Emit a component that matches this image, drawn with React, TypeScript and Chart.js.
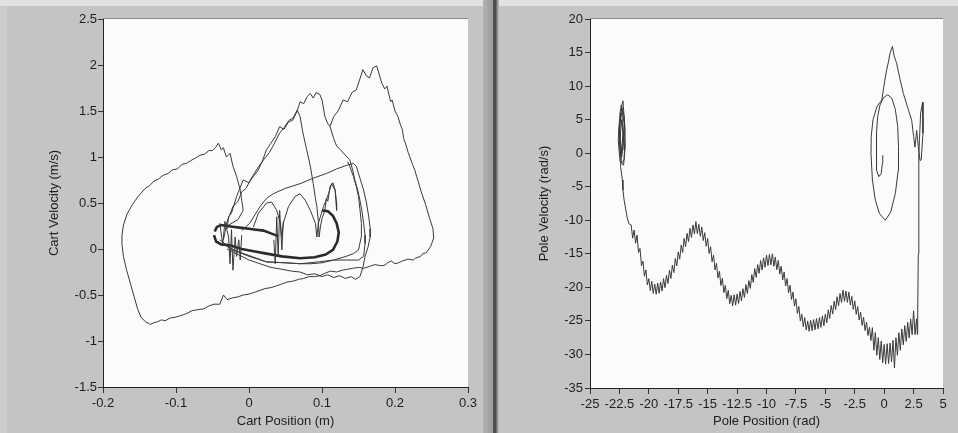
import { useEffect, useRef } from "react";
import { Chart, registerables } from "chart.js";

Chart.register(...registerables);

type P = [number, number];

// ---------- tick labels ----------
const cartXTicks = [-0.2, -0.1, 0, 0.1, 0.2, 0.3];
const cartYTicks = [-1.5, -1, -0.5, 0, 0.5, 1, 1.5, 2, 2.5];
const poleXTicks = [-25, -22.5, -20, -17.5, -15, -12.5, -10, -7.5, -5, -2.5, 0, 2.5, 5];
const poleYTicks = [-35, -30, -25, -20, -15, -10, -5, 0, 5, 10, 15, 20];

// ---------- cart phase trajectory pieces (x m, v m/s) ----------
const cartOuterLoop: P[] = [
  [0.111, 1.33], [0.116, 1.44], [0.122, 1.5], [0.129, 1.62], [0.135, 1.6], [0.141, 1.7], [0.147, 1.73],
  [0.152, 1.85], [0.156, 1.95], [0.161, 1.88], [0.165, 1.86], [0.17, 1.97], [0.175, 1.99], [0.179, 1.88],
  [0.182, 1.8], [0.186, 1.74], [0.189, 1.77], [0.194, 1.6], [0.196, 1.62], [0.2, 1.5], [0.204, 1.44],
  [0.207, 1.36], [0.21, 1.3], [0.212, 1.2], [0.215, 1.13], [0.218, 1.05], [0.224, 0.92], [0.227, 0.86],
  [0.23, 0.78], [0.236, 0.62], [0.242, 0.48], [0.248, 0.32], [0.252, 0.22], [0.253, 0.12], [0.249, 0.03],
  [0.243, -0.04], [0.238, -0.05], [0.235, -0.08], [0.228, -0.1], [0.225, -0.12], [0.218, -0.11],
  [0.21, -0.13], [0.205, -0.15], [0.2, -0.16], [0.195, -0.13], [0.19, -0.15], [0.185, -0.18], [0.18, -0.18],
  [0.172, -0.17], [0.165, -0.19], [0.157, -0.21], [0.15, -0.2], [0.142, -0.21], [0.135, -0.22],
  [0.128, -0.23], [0.12, -0.25], [0.112, -0.24], [0.105, -0.26], [0.097, -0.29], [0.09, -0.3],
  [0.082, -0.3], [0.075, -0.32], [0.068, -0.33], [0.06, -0.35], [0.052, -0.36], [0.045, -0.38],
  [0.038, -0.4], [0.03, -0.42], [0.022, -0.43], [0.015, -0.45], [0.008, -0.47], [0.0, -0.49],
  [-0.008, -0.5], [-0.015, -0.52], [-0.022, -0.53], [-0.03, -0.55], [-0.035, -0.5], [-0.04, -0.6],
  [-0.048, -0.6], [-0.055, -0.62], [-0.062, -0.65], [-0.07, -0.66], [-0.078, -0.67], [-0.085, -0.7],
  [-0.092, -0.72], [-0.1, -0.74], [-0.108, -0.75], [-0.115, -0.78], [-0.12, -0.77], [-0.125, -0.79],
  [-0.13, -0.8], [-0.135, -0.82], [-0.142, -0.79], [-0.148, -0.74], [-0.153, -0.64], [-0.158, -0.5],
  [-0.163, -0.36], [-0.168, -0.22], [-0.172, -0.08], [-0.174, 0.05], [-0.174, 0.15], [-0.172, 0.26],
  [-0.167, 0.38], [-0.16, 0.48], [-0.152, 0.57], [-0.142, 0.66], [-0.136, 0.69], [-0.13, 0.74],
  [-0.124, 0.76], [-0.118, 0.8], [-0.111, 0.82], [-0.105, 0.86], [-0.098, 0.87], [-0.092, 0.92],
  [-0.086, 0.93], [-0.08, 0.96], [-0.073, 0.99], [-0.067, 1.02], [-0.061, 1.03], [-0.055, 1.07],
  [-0.05, 1.07], [-0.046, 1.1], [-0.042, 1.15], [-0.038, 1.08], [-0.035, 1.1], [-0.031, 1.0],
  [-0.026, 1.04], [-0.022, 0.9], [-0.017, 0.79], [-0.012, 0.64], [-0.01, 0.53], [-0.008, 0.42],
  [-0.015, 0.32], [-0.03, 0.25],
];

const cartMiddlePeak: P[] = [
  [-0.03, 0.22], [-0.028, 0.35], [-0.024, 0.39], [-0.017, 0.57], [-0.008, 0.75], [0.0, 0.72], [0.006, 0.79],
  [0.012, 0.85], [0.018, 0.95], [0.024, 1.08], [0.03, 1.15], [0.036, 1.22], [0.042, 1.33], [0.048, 1.3],
  [0.054, 1.38], [0.06, 1.4], [0.066, 1.5], [0.07, 1.6], [0.075, 1.58], [0.08, 1.66], [0.084, 1.69],
  [0.088, 1.64], [0.092, 1.7], [0.097, 1.68], [0.1, 1.62], [0.104, 1.44], [0.108, 1.36], [0.111, 1.33],
  [0.116, 1.2], [0.12, 1.12], [0.125, 1.08], [0.132, 1.02], [0.138, 0.97], [0.142, 0.86], [0.145, 0.75],
  [0.149, 0.64], [0.152, 0.53], [0.155, 0.4], [0.157, 0.28], [0.159, 0.15], [0.159, 0.06], [0.157, -0.08],
  [0.15, -0.12], [0.13, -0.12], [0.116, -0.12], [0.1, -0.15], [0.085, -0.16], [0.07, -0.16], [0.05, -0.15],
  [0.024, -0.14], [0.0, -0.07], [-0.022, -0.01], [-0.035, 0.05],
];

const cartLeftPeak: P[] = [
  [-0.035, 0.1], [-0.03, 0.3], [-0.022, 0.46], [-0.015, 0.52], [-0.01, 0.62], [-0.004, 0.66], [0.004, 0.78],
  [0.012, 0.88], [0.02, 0.97], [0.028, 1.05], [0.035, 1.15], [0.042, 1.26], [0.048, 1.32], [0.055, 1.4],
  [0.06, 1.42], [0.066, 1.51], [0.07, 1.44], [0.073, 1.3], [0.075, 1.22], [0.079, 1.08], [0.084, 0.9],
  [0.088, 0.71], [0.091, 0.55], [0.093, 0.46], [0.095, 0.3], [0.096, 0.13], [0.098, 0.25], [0.1, 0.33],
  [0.104, 0.42], [0.106, 0.55], [0.108, 0.52], [0.111, 0.68], [0.115, 0.72], [0.118, 0.64], [0.12, 0.5],
  [0.12, 0.42],
];

const cartUpperArc: P[] = [
  [-0.01, 0.2], [0.001, 0.28], [0.008, 0.37], [0.015, 0.46], [0.024, 0.55], [0.033, 0.6], [0.05, 0.66],
  [0.07, 0.71], [0.088, 0.77], [0.106, 0.82], [0.12, 0.87], [0.134, 0.91], [0.143, 0.93], [0.147, 0.9],
  [0.152, 0.77], [0.157, 0.64], [0.161, 0.5], [0.164, 0.35], [0.166, 0.22], [0.166, 0.13], [0.163, 0.02],
  [0.159, -0.08], [0.156, -0.2], [0.152, -0.3], [0.146, -0.33], [0.14, -0.3], [0.132, -0.32], [0.124, -0.29],
  [0.116, -0.31], [0.108, -0.28], [0.1, -0.3], [0.09, -0.27], [0.08, -0.28], [0.07, -0.25], [0.058, -0.24],
  [0.045, -0.22], [0.03, -0.2], [0.015, -0.16], [0.0, -0.12], [-0.015, -0.06], [-0.03, 0.0],
];

const cartInnerLoop: P[] = [
  [-0.04, 0.1], [-0.022, -0.01], [0.0, -0.08], [0.024, -0.14], [0.05, -0.15], [0.07, -0.16], [0.095, -0.14],
  [0.116, -0.12], [0.133, -0.08], [0.143, -0.05], [0.15, -0.01], [0.154, 0.14], [0.154, 0.28], [0.152, 0.43],
  [0.15, 0.57], [0.147, 0.68], [0.143, 0.79], [0.138, 0.9], [0.135, 0.95],
];

const cartArches: P[] = [
  [0.006, 0.24], [0.013, 0.39], [0.024, 0.5], [0.031, 0.51], [0.038, 0.42], [0.043, 0.28], [0.045, 0.13],
  [0.047, 0.28], [0.054, 0.46], [0.063, 0.57], [0.07, 0.6], [0.077, 0.53], [0.084, 0.42], [0.091, 0.28],
  [0.093, 0.13], [0.095, 0.28], [0.102, 0.46], [0.109, 0.6], [0.113, 0.71], [0.118, 0.64], [0.12, 0.42],
];

const cartThickUpper: P[] = [
  [-0.047, 0.19], [-0.044, 0.24], [-0.038, 0.26], [-0.03, 0.25], [-0.02, 0.24], [-0.01, 0.23], [0.0, 0.22],
  [0.01, 0.21], [0.02, 0.2], [0.03, 0.17], [0.04, 0.14],
];

const cartThickLower: P[] = [
  [-0.048, 0.15], [-0.045, 0.08], [-0.038, 0.05], [-0.026, 0.04], [-0.01, 0.0], [0.01, -0.03], [0.024, -0.05],
  [0.045, -0.08], [0.07, -0.1], [0.09, -0.09], [0.105, -0.06], [0.115, -0.01], [0.121, 0.08], [0.123, 0.18],
  [0.12, 0.28], [0.115, 0.36], [0.108, 0.41], [0.1, 0.42],
];

const cartClusterSpikes: P[] = [
  [-0.04, 0.28], [-0.036, 0.05], [-0.033, 0.3], [-0.03, 0.2], [-0.028, 0.13], [-0.026, -0.16],
  [-0.024, 0.21], [-0.022, -0.23], [-0.019, 0.13], [-0.017, -0.08], [-0.014, 0.1], [-0.012, -0.12],
  [-0.01, 0.15],
];

const cartMidSpikes: P[] = [
  [0.034, 0.1], [0.036, -0.16], [0.038, 0.35], [0.04, -0.08], [0.042, 0.42], [0.045, -0.01], [0.047, 0.3],
];

// ---------- pole phase trajectory (rad, rad/s) ----------
const poleTrajectory: P[] = [
  [-22.3, 0.0], [-22.5, 3.0], [-22.35, 7.2], [-22.1, 5.5], [-22.0, 1.0], [-22.15, -1.8], [-22.45, -1.2],
  [-22.6, 2.0], [-22.45, 6.0], [-22.2, 7.8], [-22.02, 3.5], [-22.1, -1.0], [-22.35, -1.5], [-22.55, 3.5],
  [-22.3, 6.8], [-22.1, 4.5], [-22.2, 0.5], [-22.45, 0.0], [-22.5, 4.5], [-22.3, 6.0], [-22.15, 2.0],
  [-22.3, -0.5], [-22.45, 1.5], [-22.35, 5.0], [-22.2, 3.0], [-22.4, -2.0], [-22.25, -4.0], [-22.2, -5.5],
  [-22.1, -7.0], [-21.95, -8.5], [-21.85, -9.5], [-21.7, -10.5],
  [-21.5, -10.7], [-21.375, -12.675], [-21.25, -11.45], [-21.125, -13.425], [-21.0, -12.2], [-20.875, -14.8],
  [-20.75, -14.2], [-20.625, -16.75], [-20.5, -16.1], [-20.375, -18.35], [-20.25, -17.4], [-20.125, -19.65],
  [-20.0, -18.7], [-19.875, -20.5], [-19.75, -19.1], [-19.625, -20.9], [-19.5, -19.5], [-19.375, -21.025],
  [-19.25, -19.35], [-19.125, -20.875], [-19.0, -19.2], [-18.875, -20.55], [-18.75, -18.7], [-18.625, -20.05],
  [-18.5, -18.2], [-18.375, -19.425], [-18.25, -17.45], [-18.125, -18.675], [-18.0, -16.7], [-17.875, -17.8],
  [-17.75, -15.7], [-17.625, -16.8], [-17.5, -14.7], [-17.375, -15.8], [-17.25, -13.7], [-17.125, -14.8],
  [-17.0, -12.7], [-16.875, -13.925], [-16.75, -11.95], [-16.625, -13.175], [-16.5, -11.2], [-16.375, -12.55],
  [-16.25, -10.7], [-16.125, -12.05], [-16.0, -10.2], [-15.875, -12.0], [-15.75, -10.6], [-15.625, -12.4],
  [-15.5, -11.0], [-15.375, -13.025], [-15.25, -11.85], [-15.125, -13.875], [-15.0, -12.7], [-14.875, -14.925],
  [-14.75, -13.95], [-14.625, -16.175], [-14.5, -15.2], [-14.375, -17.4], [-14.25, -16.4], [-14.125, -18.6],
  [-14.0, -17.6], [-13.875, -19.725], [-13.75, -18.65], [-13.625, -20.775], [-13.5, -19.7], [-13.375, -21.675],
  [-13.25, -20.45], [-13.125, -22.425], [-13.0, -21.2], [-12.875, -22.75], [-12.75, -21.1], [-12.625, -22.65],
  [-12.5, -21.0], [-12.375, -22.4], [-12.25, -20.6], [-12.125, -22.0], [-12.0, -20.2], [-11.875, -21.5],
  [-11.75, -19.6], [-11.625, -20.9], [-11.5, -19.0], [-11.375, -20.15], [-11.25, -18.1], [-11.125, -19.25],
  [-11.0, -17.2], [-10.875, -18.5], [-10.75, -16.6], [-10.625, -17.9], [-10.5, -16.0], [-10.375, -17.4],
  [-10.25, -15.6], [-10.125, -17.0], [-10.0, -15.2], [-9.875, -16.75], [-9.75, -15.1], [-9.625, -16.65],
  [-9.5, -15.0], [-9.375, -16.85], [-9.25, -15.5], [-9.125, -17.35], [-9.0, -16.0], [-8.875, -18.025],
  [-8.75, -16.85], [-8.625, -18.875], [-8.5, -17.7], [-8.375, -19.8], [-8.25, -18.7], [-8.125, -20.8],
  [-8.0, -19.7], [-7.875, -21.8], [-7.75, -20.7], [-7.625, -22.8], [-7.5, -21.7], [-7.375, -23.875],
  [-7.25, -22.85], [-7.125, -25.025], [-7.0, -24.0], [-6.875, -25.85], [-6.75, -24.5], [-6.625, -26.35],
  [-6.5, -25.0], [-6.375, -26.55], [-6.25, -24.9], [-6.125, -26.45], [-6.0, -24.8], [-5.875, -26.325],
  [-5.75, -24.65], [-5.625, -26.175], [-5.5, -24.5], [-5.375, -25.975], [-5.25, -24.25], [-5.125, -25.725],
  [-5.0, -24.0], [-4.875, -25.275], [-4.75, -23.35], [-4.625, -24.625], [-4.5, -22.7], [-4.375, -23.975],
  [-4.25, -22.05], [-4.125, -23.325], [-4.0, -21.4], [-3.875, -22.75], [-3.75, -20.9], [-3.625, -22.25],
  [-3.5, -20.4], [-3.375, -22.075], [-3.25, -20.55], [-3.125, -22.225], [-3.0, -20.7], [-2.875, -22.625],
  [-2.75, -21.35], [-2.625, -23.275], [-2.5, -22.0], [-2.375, -24.025], [-2.25, -22.85], [-2.125, -24.875],
  [-2.0, -23.7], [-1.875, -25.675], [-1.75, -24.45], [-1.625, -26.425], [-1.5, -25.2], [-1.375, -27.175],
  [-1.25, -25.95], [-1.125, -27.925], [-1.0, -26.0], [-0.875, -29.375], [-0.75, -26.75], [-0.625, -30.125],
  [-0.5, -27.5], [-0.375, -30.75], [-0.25, -28.0], [-0.125, -31.25], [0.0, -28.5], [0.125, -31.45],
  [0.25, -28.4], [0.375, -31.35], [0.5, -28.3], [0.625, -31.1], [0.75, -27.9], [0.875, -32.0],
  [1.0, -27.5], [1.125, -30.125], [1.25, -26.75], [1.375, -29.375], [1.5, -26.2], [1.625, -28.55],
  [1.75, -25.7], [1.875, -28.05], [2.0, -25.2], [2.125, -27.55], [2.25, -24.7], [2.375, -27.05],
  [2.5, -23.5], [2.625, -27.05], [2.75, -24.7], [2.82, -27.0],
  [2.85, -24.0], [2.9, -15.0], [2.93, -5.0], [2.96, -0.1], [3.0, 2.0], [3.1, 6.0], [3.27, 7.6], [3.3, 3.0],
  [3.15, -1.0], [3.05, -1.1], [2.9, 1.0], [2.76, 3.4], [2.62, 0.9], [2.5, 2.5], [2.34, 4.9], [2.0, 6.8],
  [1.63, 8.9], [1.35, 11.0], [1.06, 13.4], [0.85, 14.5], [0.7, 15.9], [0.5, 14.9], [0.35, 13.5],
  [0.21, 12.4], [0.05, 10.8], [-0.07, 9.4], [-0.21, 7.9],
  [-0.6, 7.0], [-0.95, 5.0], [-1.1, 2.5], [-1.12, 0.0], [-1.0, -4.0], [-0.75, -7.0], [-0.4, -9.0],
  [0.1, -10.0], [0.55, -8.8], [0.95, -6.0], [1.2, -2.5], [1.22, 1.0], [1.15, 4.0], [0.95, 6.5],
  [0.65, 8.2], [0.3, 8.7], [-0.05, 8.3], [-0.35, 7.2], [-0.55, 5.5], [-0.65, 3.0], [-0.68, 0.0],
  [-0.62, -2.5], [-0.45, -3.5], [-0.25, -3.0], [-0.15, -1.5], [-0.12, -0.3],
];

const FONT = { family: "'Liberation Sans', Arial, sans-serif", size: 13 };
const INK = "#1e1e1e";

const plotBg = {
  id: "plotBg",
  beforeDraw(chart: any) {
    const { ctx, chartArea: a } = chart;
    ctx.save();
    ctx.fillStyle = "#fbfbfb";
    ctx.fillRect(a.left, a.top, a.right - a.left, a.bottom - a.top);
    ctx.strokeStyle = "#8a8a8a";
    ctx.lineWidth = 1;
    ctx.beginPath();
    ctx.moveTo(a.left, a.top - 0.5);
    ctx.lineTo(a.right, a.top - 0.5);
    ctx.stroke();
    ctx.restore();
  },
};

function axis(
  pos: "bottom" | "left",
  ticks: number[],
  title: string,
  size: number,
  tickLen: number,
  pad: number
) {
  return {
    type: "linear",
    position: pos,
    min: ticks[0],
    max: ticks[ticks.length - 1],
    afterBuildTicks: (s: any) => {
      s.ticks = ticks.map((v) => ({ value: v }));
    },
    afterFit: (s: any) => {
      if (pos === "bottom") s.height = size;
      else s.width = size;
    },
    ticks: {
      autoSkip: false,
      maxRotation: 0,
      minRotation: 0,
      padding: pad,
      color: INK,
      font: FONT,
      callback: (v: any) => (Number(v) === 0 ? "0" : String(Number(v))),
    },
    grid: {
      drawOnChartArea: false,
      drawTicks: true,
      tickLength: tickLen,
      color: "#333",
      lineWidth: 1,
    },
    border: { display: true, color: "#222", width: 1 },
    title: { display: true, text: title, color: INK, font: FONT, padding: { top: 4, bottom: 4 } },
  };
}

function line(data: P[], width = 1, color = "#3a3a3a") {
  return {
    data: data.map(([x, y]) => ({ x, y })),
    showLine: true,
    borderColor: color,
    borderWidth: width,
    pointRadius: 0,
    tension: 0,
    fill: false,
  };
}

function PhaseChart(props: {
  left: number;
  width: number;
  datasets: any[];
  xTicks: number[];
  yTicks: number[];
  xTitle: string;
  yTitle: string;
  padLeft: number;
  padRight: number;
  yWidth: number;
  xHeight: number;
  yPad: number;
}) {
  const ref = useRef<HTMLCanvasElement | null>(null);
  useEffect(() => {
    if (!ref.current) return;
    const chart = new Chart(ref.current, {
      type: "scatter",
      data: { datasets: props.datasets },
      options: {
        animation: false,
        responsive: false,
        maintainAspectRatio: false,
        layout: { padding: { left: props.padLeft, right: props.padRight, top: 19, bottom: 0 } },
        plugins: { legend: { display: false }, tooltip: { enabled: false } },
        scales: {
          x: axis("bottom", props.xTicks, props.xTitle, props.xHeight, 6, 3),
          y: axis("left", props.yTicks, props.yTitle, props.yWidth, 5, props.yPad),
        } as any,
      },
      plugins: [plotBg],
    });
    return () => chart.destroy();
  }, []);
  return (
    <canvas
      ref={ref}
      width={props.width}
      height={433}
      style={{ position: "absolute", left: props.left, top: 0, width: props.width, height: 433 }}
    />
  );
}

export default function App() {
  const cartSets = [
    line(cartOuterLoop),
    line(cartMiddlePeak),
    line(cartLeftPeak),
    line(cartUpperArc),
    line(cartInnerLoop),
    line(cartArches),
    line(cartClusterSpikes),
    line(cartMidSpikes),
    line(cartThickUpper, 2.6, "#2a2a2a"),
    line(cartThickLower, 2.6, "#2a2a2a"),
  ];
  const poleSets = [line(poleTrajectory, 1, "#3a3a3a")];
  return (
    <div
      style={{
        position: "absolute",
        left: 0,
        top: 0,
        width: 958,
        height: 433,
        background: "#c4c4c4",
        overflow: "hidden",
      }}
    >
      <div style={{ position: "absolute", left: 0, top: 0, width: 958, height: 6, background: "#e2e2e2" }} />
      <div style={{ position: "absolute", left: 0, top: 6, width: 7, height: 427, background: "#cdcdcd" }} />
      <div
        style={{
          position: "absolute",
          left: 483,
          top: 0,
          width: 16,
          height: 433,
          background:
            "linear-gradient(to right, #b2b2b2 0px, #9c9c9c 10px, #555 10px, #4a4a4a 13px, #8f8f8f 14px, #bdbdbd 16px)",
        }}
      />
      <PhaseChart
        left={0}
        width={487}
        datasets={cartSets}
        xTicks={cartXTicks}
        yTicks={cartYTicks}
        xTitle="Cart Position (m)"
        yTitle="Cart Velocity (m/s)"
        padLeft={43}
        padRight={19}
        yWidth={60}
        xHeight={46}
        yPad={1}
      />
      <PhaseChart
        left={498}
        width={460}
        datasets={poleSets}
        xTicks={poleXTicks}
        yTicks={poleYTicks}
        xTitle="Pole Position (rad)"
        yTitle="Pole Velocity (rad/s)"
        padLeft={35}
        padRight={15}
        yWidth={57}
        xHeight={45}
        yPad={2}
      />
    </div>
  );
}
